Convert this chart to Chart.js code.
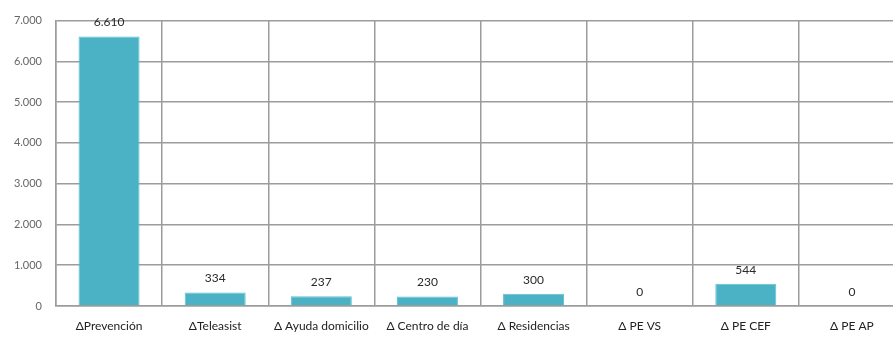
<!DOCTYPE html>
<html>
<head>
<meta charset="utf-8">
<script src="https://cdn.jsdelivr.net/npm/chart.js@4"></script>
<style>
  html, body { margin: 0; padding: 0; background: #fff; overflow: hidden; }
  #wrap { width: 912px; height: 338px; }
</style>
</head>
<body>
<div id="wrap"><canvas id="myChart" width="912" height="338"></canvas></div>
<script>
// categories and values
var categories = ['\u0394Prevenci\u00f3n', '\u0394Teleasist', '\u0394 Ayuda domicilio', '\u0394 Centro de d\u00eda',
                  '\u0394 Residencias', '\u0394 PE VS', '\u0394 PE CEF', '\u0394 PE AP'];
var values = [6610, 334, 237, 230, 300, 0, 544, 0];
var yTicks = [0, 1000, 2000, 3000, 4000, 5000, 6000, 7000];

function fmt(v) {
    return String(v).replace(/\B(?=(\d{3})+(?!\d))/g, '.');
}

// draw the value above each bar
var valueLabels = {
    id: 'valueLabels',
    afterDatasetsDraw: function(chart) {
        var ctx = chart.ctx;
        var meta = chart.getDatasetMeta(0);
        ctx.save();
        ctx.font = '12px Lato, "Open Sans", sans-serif';
        ctx.fillStyle = '#2a2a2a';
        ctx.textAlign = 'center';
        ctx.textBaseline = 'bottom';
        meta.data.forEach(function(bar, i) {
            ctx.fillText(fmt(values[i]), bar.x, bar.y - 8);
        });
        ctx.restore();
    }
};

var ctx = document.getElementById('myChart').getContext('2d');
var myChart = new Chart(ctx, {
    type: 'bar',
    data: {
        labels: categories,
        datasets: [{
            data: values,
            backgroundColor: '#4bb2c6',
            borderColor: '#5ec0d2',
            borderWidth: 1,
            barPercentage: 0.575,
            categoryPercentage: 1
        }]
    },
    options: {
        responsive: false,
        animation: false,
        layout: { padding: { left: 0, right: 7, top: 14, bottom: 0 } },
        plugins: {
            legend: { display: false },
            tooltip: { enabled: false }
        },
        scales: {
            x: {
                offset: true,
                grid: { color: '#9c9c9c', lineWidth: 1.5, offset: true, drawTicks: false },
                border: { color: '#9c9c9c', width: 1.5 },
                ticks: {
                    padding: 13,
                    color: '#222',
                    maxRotation: 0,
                    autoSkip: false,
                    font: { family: 'Lato, "Open Sans", sans-serif', size: 12 }
                },
                afterFit: function(scale) { scale.height = 32; }
            },
            y: {
                min: 0,
                max: 7000,
                afterBuildTicks: function(scale) {
                    scale.ticks = yTicks.map(function(v) { return { value: v }; });
                },
                grid: { color: '#9c9c9c', lineWidth: 1.5, drawTicks: false },
                border: { color: '#9c9c9c', width: 1.5 },
                ticks: {
                    padding: 14,
                    color: '#666',
                    font: { family: 'Lato, "Open Sans", sans-serif', size: 11 },
                    callback: function(v) { return fmt(v); }
                },
                afterFit: function(scale) { scale.width = 56; }
            }
        }
    },
    plugins: [valueLabels]
});
</script>
</body>
</html>
